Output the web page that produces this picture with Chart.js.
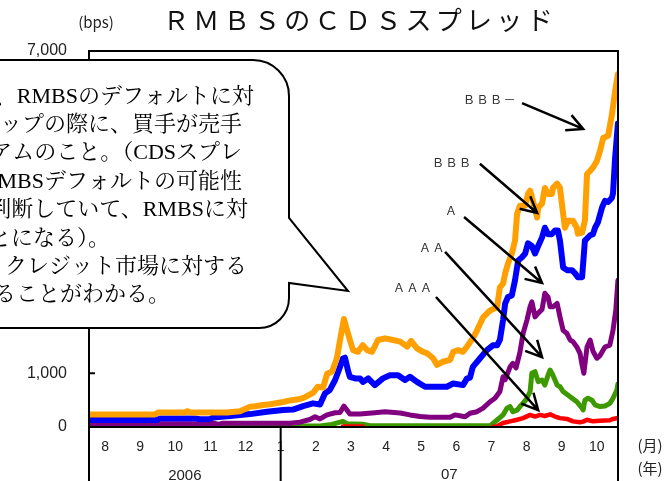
<!DOCTYPE html>
<html lang="ja">
<head>
<meta charset="utf-8">
<title>RMBSのCDSスプレッド</title>
<script src="https://cdn.jsdelivr.net/npm/chart.js@4.4.1/dist/chart.umd.min.js"></script>
<style>
  html, body { margin: 0; padding: 0; background: #fff; }
  canvas { display: block; }
</style>
</head>
<body>
<canvas id="cds" width="671" height="481"></canvas>
<script>
// Time is measured in months from January 2006 (7 = start of Aug 2006, 12 = start of Jan 2007).
// Each series is a list of [month, spread in bps].
const bbbMinus = [
  [6.54,235],[8.42,235],[8.51,270],[9.28,270],[9.33,295],[9.42,272],[10.47,272],[10.84,295],
  [11.13,375],[11.27,385],[11.50,410],[11.70,425],[12.07,465],[12.27,495],[12.55,520],[12.69,555],
  [12.92,635],[13.06,750],[13.21,735],[13.32,990],[13.46,1030],[13.60,1280],[13.69,1620],[13.80,2010],
  [13.89,1800],[13.97,1620],[14.06,1430],[14.20,1400],[14.34,1525],[14.46,1430],[14.60,1400],[14.77,1620],
  [14.97,1650],[15.20,1620],[15.40,1590],[15.60,1495],[15.71,1605],[15.88,1465],[16.05,1400],[16.17,1370],
  [16.34,1280],[16.45,1155],[16.62,1215],[16.82,1250],[16.91,1400],[17.05,1430],[17.19,1400],[17.30,1495],
  [17.47,1650],[17.59,1800],[17.76,2040],[17.96,2170],[18.16,2230],[18.24,2600],[18.33,2670],[18.39,2860],
  [18.47,3040],[18.58,3230],[18.67,3470],[18.73,3970],[18.81,4120],[18.96,4120],[19.04,4340],[19.10,4400],
  [19.18,4210],[19.30,3900],[19.33,4080],[19.44,4160],[19.52,4450],[19.61,4340],[19.72,4340],[19.75,4450],
  [19.87,4530],[19.95,4450],[20.04,3970],[20.09,3710],[20.18,3840],[20.32,3840],[20.43,3710],[20.46,3600],
  [20.58,3620],[20.66,3840],[20.72,4710],[20.81,4770],[20.89,4830],[21.00,4950],[21.09,5140],[21.18,5380],
  [21.32,5420],[21.43,5820],[21.52,6250],[21.60,6570]
];
const bbb = [
  [6.54,130],[8.48,130],[8.57,160],[9.56,160],[9.70,145],[9.99,150],[10.07,175],[10.56,205],
  [11.13,240],[11.61,285],[12.07,315],[12.35,325],[12.64,390],[12.92,440],[13.12,420],[13.26,625],
  [13.40,690],[13.55,875],[13.69,1120],[13.77,1275],[13.83,1290],[13.92,1040],[13.97,935],[14.12,905],
  [14.26,905],[14.34,840],[14.49,905],[14.68,780],[14.91,905],[15.11,965],[15.34,965],[15.54,875],
  [15.68,935],[15.88,840],[16.11,750],[16.45,750],[16.73,750],[16.91,810],[17.19,780],[17.30,900],
  [17.39,920],[17.47,1120],[17.67,1275],[17.87,1430],[18.04,1520],[18.16,1520],[18.24,1620],[18.33,1990],
  [18.39,2300],[18.47,2420],[18.58,2450],[18.67,2730],[18.76,3100],[18.87,3160],[18.96,3230],[19.04,3420],
  [19.15,3370],[19.24,3230],[19.33,3370],[19.44,3530],[19.52,3710],[19.61,3590],[19.72,3590],[19.81,3660],
  [19.89,3660],[19.95,3470],[20.04,2970],[20.15,2920],[20.29,2920],[20.38,2860],[20.46,2790],[20.58,2790],
  [20.66,3470],[20.81,3570],[20.89,3590],[20.95,3710],[21.03,3810],[21.15,4090],[21.23,4210],[21.32,4190],
  [21.43,4270],[21.46,4350],[21.52,5010],[21.60,5650]
];
const singleA = [
  [6.54,40],[8.28,40],[8.42,62],[9.56,62],[9.70,58],[10.13,68],[10.22,50],[10.33,68],[12.27,68],
  [12.55,90],[12.83,140],[12.98,190],[13.12,150],[13.32,225],[13.55,265],[13.69,270],[13.80,390],
  [13.97,240],[14.26,240],[14.68,265],[14.97,285],[15.40,260],[15.68,225],[15.97,195],[16.25,180],
  [16.82,180],[16.96,225],[17.25,190],[17.39,255],[17.59,285],[17.76,350],[17.96,470],[18.10,535],
  [18.24,660],[18.33,935],[18.39,880],[18.53,1120],[18.61,1185],[18.70,1100],[18.81,1390],[18.90,1740],
  [19.01,1990],[19.10,2240],[19.15,2330],[19.24,2050],[19.33,2120],[19.44,2190],[19.52,2490],[19.61,2420],
  [19.67,2240],[19.75,2240],[19.87,2300],[19.95,2050],[20.04,1800],[20.15,1740],[20.24,1620],[20.32,1590],
  [20.43,1490],[20.52,1370],[20.58,1155],[20.63,1000],[20.72,1490],[20.81,1620],[20.89,1410],[21.00,1280],
  [21.09,1330],[21.23,1490],[21.37,1525],[21.46,1800],[21.54,2180],[21.60,2730]
];
const doubleA = [
  [6.54,20],[13.12,20],[13.40,40],[13.77,105],[13.89,60],[14.34,50],[14.54,22],[17.96,22],
  [18.16,130],[18.33,225],[18.44,350],[18.53,380],[18.61,285],[18.73,315],[18.81,380],[18.90,440],
  [19.01,535],[19.10,660],[19.15,1000],[19.24,1030],[19.33,845],[19.44,875],[19.52,780],[19.61,965],
  [19.67,1060],[19.75,965],[19.87,780],[19.95,750],[20.04,660],[20.24,565],[20.43,470],[20.58,350],
  [20.61,320],[20.66,500],[20.75,535],[20.86,500],[20.95,410],[21.09,380],[21.23,390],[21.37,440],
  [21.46,535],[21.57,690],[21.60,800]
];
const tripleA = [
  [13.77,8],[14.34,8],[14.60,null],[18.04,0],[18.16,15],[18.33,75],[18.53,105],[18.73,135],
  [18.90,165],[19.10,225],[19.24,195],[19.38,225],[19.52,205],[19.67,235],[19.81,195],[19.95,165],
  [20.15,150],[20.32,105],[20.52,88],[20.61,100],[20.72,135],[20.89,105],[21.09,118],[21.37,125],
  [21.46,150],[21.60,170]
];

const yearLabels = ['2006', '07'];
const chartTitle = 'ＲＭＢＳのＣＤＳスプレッド';

// Rating names with the arrows pointing at their lines (label anchor, arrow tail, arrow tip in data units).
const ratingNotes = [
  { text: 'ＢＢＢ－', at: [17.19, 6100], from: [18.87, 6030], to: [20.61, 5550] },
  { text: 'ＢＢＢ',   at: [16.31, 4930], from: [17.67, 4900], to: [19.30, 3985] },
  { text: 'Ａ',       at: [16.68, 4040], from: [17.22, 3910], to: [19.44, 2680] },
  { text: 'ＡＡ',     at: [15.94, 3350], from: [16.68, 3260], to: [19.44, 1300] },
  { text: 'ＡＡＡ',   at: [15.20, 2590], from: [16.42, 2420], to: [19.33, 315] }
];

const calloutLines = [
  '、RMBSのデフォルトに対',
  'ップの際に、買手が売手',
  'アムのこと。（CDSスプレ',
  'RMBSデフォルトの可能性',
  '判断していて、RMBSに対',
  'ことになる）。',
  '、クレジット市場に対する',
  'ることがわかる。'
];

const toPoints = arr => arr.map(([x, y]) => ({ x, y }));

const monthLabel = v => String((Math.round(v) % 12) + 1);

function arrow(ctx, x1, y1, x2, y2) {
  const ang = Math.atan2(y2 - y1, x2 - x1);
  const len = 18, spread = 0.47;
  ctx.beginPath();
  ctx.moveTo(x1, y1);
  ctx.lineTo(x2, y2);
  ctx.moveTo(x2 - len * Math.cos(ang - spread), y2 - len * Math.sin(ang - spread));
  ctx.lineTo(x2, y2);
  ctx.lineTo(x2 - len * Math.cos(ang + spread), y2 - len * Math.sin(ang + spread));
  ctx.stroke();
}

const decorations = {
  id: 'decorations',
  afterDraw(chart) {
    const { ctx, chartArea: { left, right, top, bottom }, scales: { x, y } } = chart;
    const H = chart.height;
    ctx.save();

    // plot frame, year divider and the extended side rules
    ctx.strokeStyle = '#000';
    ctx.lineWidth = 2;
    ctx.beginPath();
    ctx.moveTo(left - 1, top); ctx.lineTo(right + 1, top);
    ctx.moveTo(left, top); ctx.lineTo(left, H);
    ctx.moveTo(right, top); ctx.lineTo(right, H);
    ctx.moveTo(left, bottom); ctx.lineTo(right, bottom);
    const jan = x.getPixelForValue(12);
    ctx.moveTo(jan, bottom); ctx.lineTo(jan, H);
    ctx.stroke();

    // inward tick marks on the value axis
    ctx.beginPath();
    y.ticks.forEach(t => {
      const py = y.getPixelForValue(t.value);
      ctx.moveTo(left, py); ctx.lineTo(left + 6, py);
    });
    ctx.stroke();

    // year row
    ctx.fillStyle = '#222';
    ctx.font = '15px "Liberation Sans", Arial, sans-serif';
    ctx.textAlign = 'center';
    ctx.textBaseline = 'middle';
    ctx.fillText(yearLabels[0], (left + jan) / 2, 476);
    ctx.fillText(yearLabels[1], (jan + right) / 2, 475);

    // unit captions
    ctx.font = '15px "Noto Sans CJK JP", sans-serif';
    ctx.fillText('(月)', 650, 445);
    ctx.fillText('(年)', 650, 468);
    ctx.fillText('(bps)', 96, 22);

    // title
    ctx.font = '26px "Noto Sans CJK JP", sans-serif';
    ctx.letterSpacing = '4.3px';
    ctx.fillStyle = '#111';
    ctx.fillText(chartTitle, 360, 20);
    ctx.letterSpacing = '0px';

    // rating names and arrows
    ctx.strokeStyle = '#000';
    ctx.lineWidth = 2.5;
    ctx.lineCap = 'butt';
    ratingNotes.forEach(n => {
      ctx.font = '12px "Noto Sans CJK JP", sans-serif';
      ctx.letterSpacing = '1.5px';
      ctx.fillStyle = '#333';
      ctx.textAlign = 'left';
      ctx.fillText(n.text, x.getPixelForValue(n.at[0]), y.getPixelForValue(n.at[1]));
      ctx.letterSpacing = '0px';
      arrow(ctx,
        x.getPixelForValue(n.from[0]), y.getPixelForValue(n.from[1]),
        x.getPixelForValue(n.to[0]), y.getPixelForValue(n.to[1]));
    });

    // speech-bubble note
    const bx = 289, btop = 60, bbot = 328, r1 = 36, r2 = 30;
    ctx.beginPath();
    ctx.moveTo(-20, btop);
    ctx.lineTo(bx - r1, btop);
    ctx.arcTo(bx, btop, bx, btop + r1, r1);
    ctx.lineTo(bx, 218);
    ctx.lineTo(348, 291);
    ctx.lineTo(bx, 283);
    ctx.lineTo(bx, bbot - r2);
    ctx.arcTo(bx, bbot, bx - r2, bbot, r2);
    ctx.lineTo(-20, bbot);
    ctx.closePath();
    ctx.fillStyle = '#fff';
    ctx.fill();
    ctx.lineWidth = 2;
    ctx.lineJoin = 'miter';
    ctx.stroke();

    ctx.fillStyle = '#000';
    ctx.font = '22px "Liberation Serif", "Noto Serif CJK JP", "Noto Sans CJK JP", serif';
    ctx.textBaseline = 'middle';
    const ends = [254, 242, 242, 242, 248, null, 247, null];
    calloutLines.forEach((line, i) => {
      const ly = 97 + i * 28.35;
      if (ends[i] !== null) {
        ctx.textAlign = 'right';
        ctx.fillText(line, ends[i], ly);
      } else {
        ctx.textAlign = 'left';
        ctx.fillText(line, i === 5 ? -33 : -6, ly);
      }
    });

    ctx.restore();
  }
};

new Chart(document.getElementById('cds'), {
  type: 'line',
  data: {
    datasets: [
      { label: 'AAA',  data: toPoints(tripleA),  borderColor: '#ff0000', borderWidth: 4.5 },
      { label: 'BBB-', data: toPoints(bbbMinus), borderColor: '#ff9f00', borderWidth: 6 },
      { label: 'BBB',  data: toPoints(bbb),      borderColor: '#0000ff', borderWidth: 6 },
      { label: 'A',    data: toPoints(singleA),  borderColor: '#800080', borderWidth: 5 },
      { label: 'AA',   data: toPoints(doubleA),  borderColor: '#3c9900', borderWidth: 5 }
    ]
  },
  options: {
    responsive: false,
    animation: false,
    devicePixelRatio: 1,
    spanGaps: false,
    layout: { padding: { top: 51, right: 53, left: 0, bottom: 0 } },
    elements: {
      point: { radius: 0, hoverRadius: 0 },
      line: { tension: 0, borderJoinStyle: 'round', borderCapStyle: 'round', fill: false }
    },
    plugins: { legend: { display: false }, tooltip: { enabled: false }, title: { display: false } },
    scales: {
      x: {
        type: 'linear',
        min: 6.544,
        max: 21.602,
        grid: { display: false, drawTicks: false },
        border: { display: false },
        ticks: {
          stepSize: 1,
          includeBounds: false,
          autoSkip: false,
          maxRotation: 0,
          maxTicksLimit: 100,
          padding: 12,
          color: '#222',
          font: { family: '"Liberation Sans", Arial, sans-serif', size: 14 },
          callback: v => monthLabel(v)
        },
        afterFit: s => { s.height = 54; }
      },
      y: {
        min: 0,
        max: 7000,
        grid: { display: false, drawTicks: false },
        border: { display: false },
        ticks: {
          stepSize: 1000,
          padding: 22,
          color: '#222',
          font: { family: '"Liberation Sans", Arial, sans-serif', size: 16 },
          callback: v => v.toLocaleString('en-US')
        },
        afterFit: s => { s.width = 89; }
      }
    }
  },
  plugins: [decorations]
});
</script>
</body>
</html>
